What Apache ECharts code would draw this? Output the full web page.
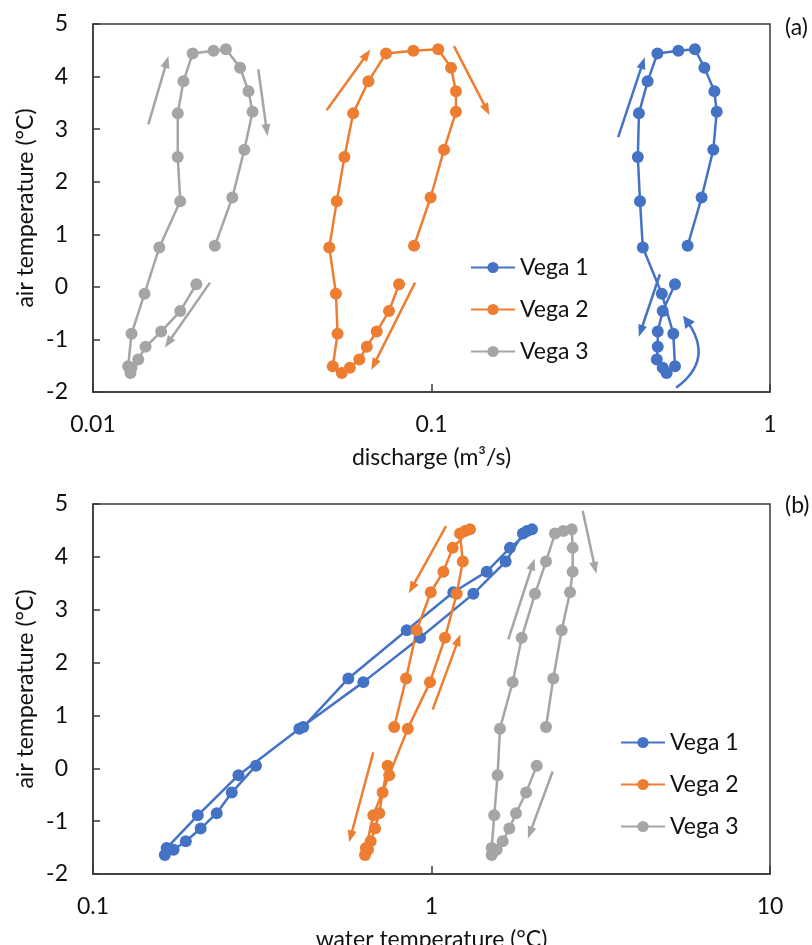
<!DOCTYPE html>
<html><head><meta charset="utf-8">
<script src="https://cdn.jsdelivr.net/npm/echarts@6/dist/echarts.min.js"></script>
<style>html,body{margin:0;padding:0;background:#fff}#c{width:812px;height:945px}</style>
</head><body><div id="c"></div>
<script>
// ---- data (hourly, 24 points) ----
const seriesNames = ['Vega 1', 'Vega 2', 'Vega 3'];
const airTemp = [0.05, -0.46, -0.85, -1.14, -1.38, -1.54, -1.64, -1.51, -0.89, -0.13, 0.75, 1.63, 2.47, 3.30, 3.91, 4.44, 4.49, 4.52, 4.17, 3.72, 3.33, 2.61, 1.70, 0.78];
const dischargeV1 = [0.524, 0.482, 0.466, 0.466, 0.463, 0.482, 0.495, 0.524, 0.518, 0.479, 0.421, 0.413, 0.407, 0.410, 0.435, 0.465, 0.536, 0.600, 0.640, 0.685, 0.696, 0.680, 0.628, 0.571];
const dischargeV2 = [0.0802, 0.0749, 0.0689, 0.0644, 0.0612, 0.0574, 0.0543, 0.0511, 0.0528, 0.0522, 0.0499, 0.0525, 0.0553, 0.0587, 0.0651, 0.0734, 0.0884, 0.1047, 0.1142, 0.1181, 0.1181, 0.1089, 0.0994, 0.0888];
const dischargeV3 = [0.0202, 0.0181, 0.0159, 0.0143, 0.0136, 0.0130, 0.0129, 0.0127, 0.0130, 0.0142, 0.0157, 0.0181, 0.0178, 0.0178, 0.0185, 0.0197, 0.0227, 0.0247, 0.0272, 0.0288, 0.0296, 0.0280, 0.0258, 0.0229];
const waterTempV1 = [0.303, 0.257, 0.232, 0.208, 0.188, 0.173, 0.163, 0.165, 0.204, 0.269, 0.407, 0.629, 0.925, 1.329, 1.656, 1.863, 1.915, 1.981, 1.705, 1.456, 1.160, 0.845, 0.568, 0.418];
const waterTempV2 = [0.742, 0.717, 0.701, 0.681, 0.661, 0.649, 0.636, 0.640, 0.673, 0.750, 0.851, 0.990, 1.096, 1.187, 1.237, 1.214, 1.256, 1.299, 1.155, 1.084, 0.995, 0.904, 0.841, 0.776];
const waterTempV3 = [2.046, 1.903, 1.777, 1.698, 1.623, 1.558, 1.506, 1.506, 1.532, 1.568, 1.593, 1.737, 1.847, 2.022, 2.179, 2.316, 2.451, 2.596, 2.613, 2.613, 2.566, 2.424, 2.290, 2.179];

// tick labels
const yTicks = [-2, -1, 0, 1, 2, 3, 4, 5];
const xTicksA = ['0.01', '0.1', '1'];
const xTicksB = ['0.1', '1', '10'];

// direction arrows (data units: [from, to])
const arrowsA1 = [[[0.356, 2.85], [0.421, 4.26]], [[0.473, 0.24], [0.415, -0.84]]];
const arrowsA1Curved = [[[0.528, -1.92], [0.567, -0.64]]];
const arrowsA2 = [[[0.0490, 3.36], [0.0644, 4.42]], [[0.1165, 4.58], [0.1456, 3.37]], [[0.0894, 0.08], [0.0676, -1.48]]];
const arrowsA3 = [[[0.01457, 3.09], [0.01651, 4.28]], [[0.03078, 4.14], [0.03259, 2.98]], [[0.02216, 0.08], [0.01669, -1.06]]];
const arrowsB2 = [[[1.104, 4.58], [0.874, 3.41]], [[1.008, 1.11], [1.200, 2.43]], [[0.673, 0.30], [0.577, -1.29]]];
const arrowsB3 = [[[1.686, 2.44], [1.991, 3.86]], [[2.797, 4.87], [3.041, 3.79]], [[2.280, -0.06], [1.954, -1.22]]];

// ---- styling ----
const colors = ['#4472C4', '#ED7D31', '#A5A5A5'];
const FONT = 'Lato';
const FS = 23;
const AX = '#3a3a3a';

function pairs(xs, ys) { return xs.map((x, i) => [x, ys[i]]); }

function markLine(color, arrows) {
  return {
    silent: true, symbol: ['none', 'triangle'], symbolSize: [9, 12],
    label: { show: false }, emphasis: { disabled: true },
    lineStyle: { color: color, width: 2.5, type: 'solid' },
    data: arrows.map(a => [{ coord: a[0] }, { coord: a[1] }])
  };
}

function mkSeries(idx, xs, gi, arrows) {
  const c = colors[idx];
  return {
    type: 'line', name: seriesNames[idx], xAxisIndex: gi, yAxisIndex: gi,
    data: pairs(xs, airTemp),
    symbol: 'circle', symbolSize: 12, showSymbol: true,
    lineStyle: { color: c, width: 2.5 }, itemStyle: { color: c },
    emphasis: { disabled: true },
    markLine: markLine(c, arrows)
  };
}

function xAxis(gi, min, max, ticks, name) {
  return {
    gridIndex: gi, type: 'log', logBase: 10, min: min, max: max,
    axisLine: { show: true, onZero: false, lineStyle: { color: AX, width: 1.5 } },
    axisTick: { show: true, inside: true, length: 8, lineStyle: { color: AX, width: 1.5 } },
    minorTick: { show: false }, splitLine: { show: false },
    axisLabel: { fontSize: FS, fontFamily: FONT, color: '#111', margin: 21,
      formatter: v => { const k = Math.round(Math.log10(v) - Math.log10(min)); return ticks[k] !== undefined ? ticks[k] : ''; } },
    name: name, nameLocation: 'middle', nameGap: 54, nameMoveOverlap: false,
    nameTextStyle: { fontSize: FS, fontFamily: FONT, color: '#111' }
  };
}
function yAxis(gi) {
  return {
    gridIndex: gi, type: 'value', min: yTicks[0], max: yTicks[yTicks.length - 1], interval: 1,
    axisLine: { show: true, onZero: false, lineStyle: { color: AX, width: 1.5 } },
    axisTick: { show: true, inside: true, length: 7, lineStyle: { color: AX, width: 1.5 } },
    splitLine: { show: false },
    axisLabel: { fontSize: FS, fontFamily: FONT, color: '#111', margin: 25 },
    name: 'air temperature (°C)', nameLocation: 'middle', nameGap: 56, nameMoveOverlap: false,
    nameTextStyle: { fontSize: FS, fontFamily: FONT, color: '#111' }
  };
}
function legend(top, left) {
  return {
    orient: 'vertical', left: left, top: top, itemWidth: 44, itemHeight: 14, itemGap: 19,
    data: seriesNames, selectedMode: false,
    textStyle: { fontSize: FS, fontFamily: FONT, color: '#111' }
  };
}

const chart = echarts.init(document.getElementById('c'), null, { renderer: 'canvas' });
chart.setOption({
  animation: false,
  textStyle: { fontFamily: FONT },
  title: [
    { text: '(a)', left: 780, top: 11, textStyle: { fontSize: FS, fontWeight: 'normal', fontFamily: FONT, color: '#111' } },
    { text: '(b)', left: 780, top: 489, textStyle: { fontSize: FS, fontWeight: 'normal', fontFamily: FONT, color: '#111' } }
  ],
  grid: [
    { left: 93, right: 42, top: 24, height: 368, show: true, borderColor: AX, borderWidth: 1.5, outerBoundsMode: 'none', containLabel: false },
    { left: 93, right: 42, top: 504, height: 370, show: true, borderColor: AX, borderWidth: 1.5, outerBoundsMode: 'none', containLabel: false }
  ],
  legend: [legend(251, 465), legend(726, 615)],
  xAxis: [xAxis(0, 0.01, 1, xTicksA, 'discharge (m³/s)'), xAxis(1, 0.1, 10, xTicksB, 'water temperature (°C)')],
  yAxis: [yAxis(0), yAxis(1)],
  series: [
    mkSeries(0, dischargeV1, 0, arrowsA1),
    mkSeries(1, dischargeV2, 0, arrowsA2),
    mkSeries(2, dischargeV3, 0, arrowsA3),
    mkSeries(0, waterTempV1, 1, []),
    mkSeries(1, waterTempV2, 1, arrowsB2),
    mkSeries(2, waterTempV3, 1, arrowsB3),
    { type: 'lines', name: 'arrow-curved', coordinateSystem: 'cartesian2d', xAxisIndex: 0, yAxisIndex: 0,
      silent: true, symbol: ['none', 'triangle'], symbolSize: [9, 12],
      lineStyle: { color: colors[0], width: 2.5, opacity: 1, curveness: -0.5 },
      emphasis: { disabled: true },
      data: arrowsA1Curved.map(a => ({ coords: a })) }
  ]
});
</script></body></html>
